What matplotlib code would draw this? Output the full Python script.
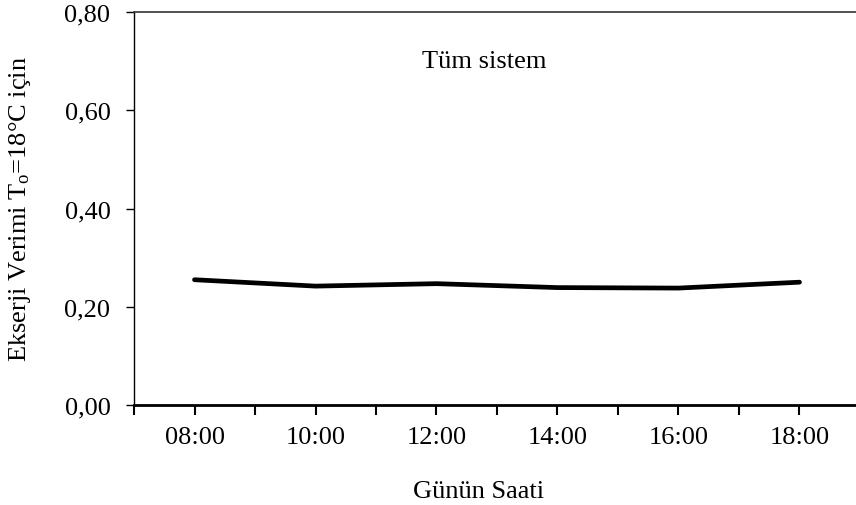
import matplotlib
matplotlib.use("Agg")
import matplotlib.pyplot as plt
from matplotlib.ticker import FixedLocator, FuncFormatter

plt.rcParams["font.family"] = ["Liberation Serif", "DejaVu Serif"]
plt.rcParams["mathtext.fontset"] = "custom"
plt.rcParams["mathtext.rm"] = "Liberation Serif"
plt.rcParams["mathtext.it"] = "Liberation Serif:italic"

hours = ["08:00", "10:00", "12:00", "14:00", "16:00", "18:00"]
efficiency = [0.255, 0.242, 0.247, 0.239, 0.238, 0.250]

W, H = 856, 506
fig = plt.figure(figsize=(W / 100, H / 100), dpi=100)
left, right, top, bottom = 134, 860, 13, 406
ax = fig.add_axes([left / W, 1 - bottom / H, (right - left) / W, (bottom - top) / H])

x = range(len(hours))
ax.plot(x, efficiency, color="black", lw=3.4, solid_capstyle="round")

ax.set_xlim(-0.5, len(hours) - 0.5)
ax.set_ylim(0, 0.8)

ax.set_xticks(list(x))
ax.set_xticklabels(hours)
ax.xaxis.set_minor_locator(FixedLocator([i - 0.5 for i in range(len(hours) + 1)]))
ax.set_yticks([0, 0.2, 0.4, 0.6, 0.8])
ax.yaxis.set_major_formatter(FuncFormatter(lambda v, p: f"{v:.2f}".replace(".", ",")))

ax.tick_params(axis="x", which="both", direction="out", length=7, width=1.5, labelsize=19, pad=8)
ax.tick_params(axis="y", direction="out", length=6, width=1, labelsize=19, pad=11)

ax.spines["right"].set_visible(False)
ax.spines["bottom"].set_linewidth(2)
ax.spines["left"].set_linewidth(1)
ax.spines["top"].set_linewidth(1.2)
ax.spines["top"].set_color("#333333")

ax.set_xlabel("Günün Saati", fontsize=19)
ax.xaxis.set_label_coords(0.474, -0.19)
ax.set_ylabel(r"Ekserji Verimi T$_\mathrm{o}$=18°C için", fontsize=19, va="center")
ax.yaxis.set_label_coords(-0.157, 0.5)

ax.text(0.483, 0.875, "Tüm sistem", transform=ax.transAxes, ha="center", va="center", fontsize=19)

fig.savefig("out.png", dpi=100)
